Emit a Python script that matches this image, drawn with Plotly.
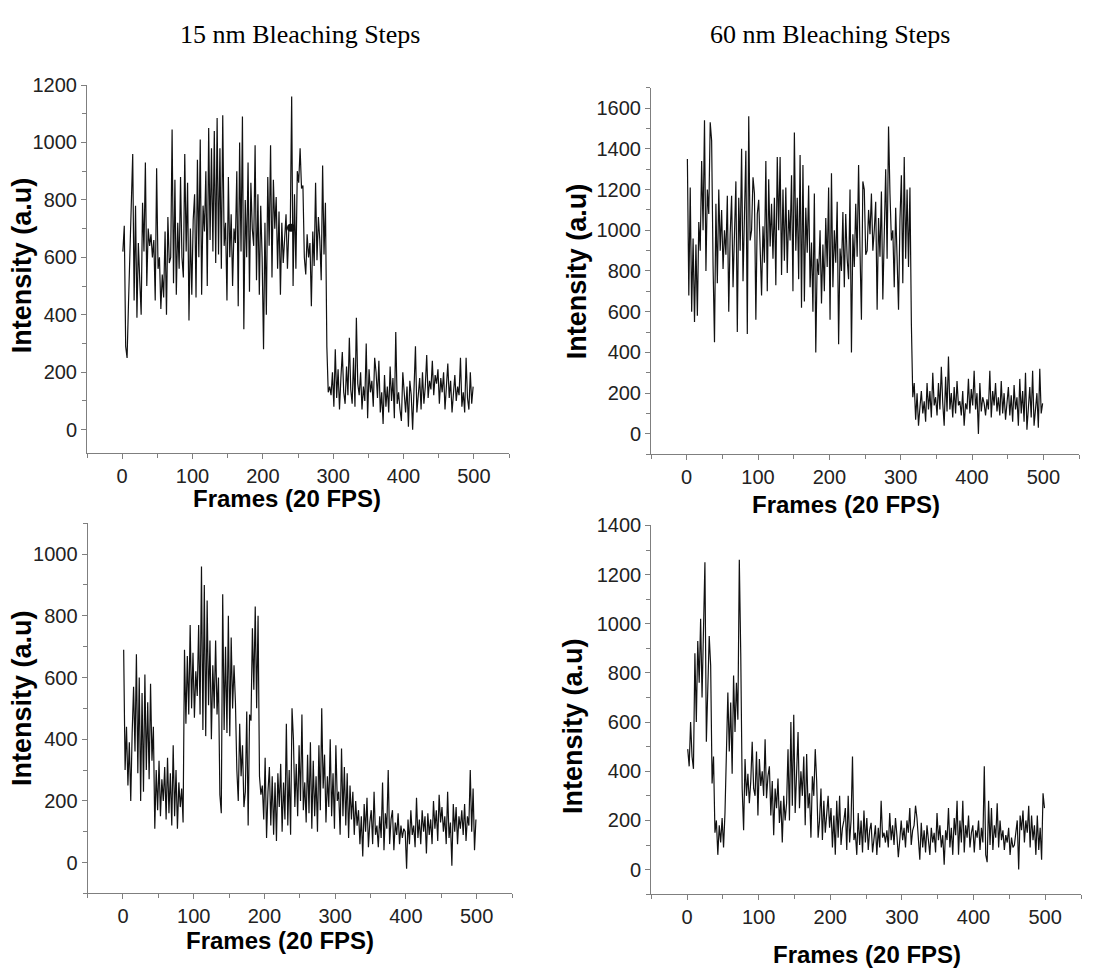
import plotly.graph_objects as go

# Frame numbers (every second frame of the 500-frame recordings)
frames = list(range(1, 501, 2))

# Top-left: 15 nm, single bleaching step
int_15_top = [
    620, 710, 290, 250, 440, 610, 700, 960, 450, 780,
    390, 650, 520, 400, 790, 620, 930, 500, 700, 640,
    680, 600, 660, 450, 910, 560, 600, 420, 540, 460,
    690, 400, 740, 580, 600, 1045, 510, 870, 470, 720,
    560, 880, 600, 530, 960, 620, 860, 380, 700, 470,
    730, 820, 460, 940, 600, 1010, 470, 780, 690, 900,
    500, 1050, 660, 980, 620, 1040, 580, 1085, 610, 980,
    560, 1095, 640, 720, 450, 880, 600, 750, 500, 700,
    650, 900, 430, 1000, 620, 1090, 350, 800, 600, 930,
    480, 860, 700, 640, 990, 520, 820, 470, 780, 600,
    280, 720, 400, 880, 640, 990, 530, 870, 700, 810,
    560, 760, 470, 720, 580, 680, 750, 560, 700, 700,
    1160, 500, 820, 560, 900, 860, 980, 840, 850, 600,
    540, 680, 600, 650, 430, 690, 570, 860, 590, 740,
    660, 520, 920, 610, 790, 290, 130, 150, 120, 200,
    80, 280, 110, 210, 70, 180, 270, 130, 90, 220,
    120, 320, 140, 90, 250, 80, 390, 160, 120, 200,
    70, 150, 100, 300, 40, 210, 130, 170, 80, 250,
    200, 110, 240, 60, 130, 20, 190, 80, 150, 60,
    220, 100, 180, 40, 340, 90, 130, 70, 30, 200,
    110, 60, 150, 10, 170, 120, 0, 140, 290, 60,
    130, 180, 70, 200, 90, 150, 260, 110, 170, 140,
    240, 120, 190, 160, 210, 90, 180, 130, 200, 70,
    150, 230, 110, 170, 60, 140, 190, 100, 150, 120,
    250, 80, 130, 60, 250, 110, 70, 200, 90, 150,
]
dot_frame = [240]
dot_int = [703]

# Top-right: 60 nm, single bleaching step
int_60_top = [
    1350, 680, 1210, 600, 960, 550, 930, 580, 1040, 900,
    1340, 1000, 1540, 800, 1200, 1080, 1530, 1440, 830, 450,
    1130, 740, 1200, 900, 1100, 810, 1000, 880, 1170, 600,
    980, 1170, 720, 1060, 1240, 500, 1160, 900, 1400, 750,
    1140, 1390, 490, 1560, 950, 1000, 1260, 1180, 560, 1080,
    1150, 900, 680, 1020, 840, 1340, 700, 1250, 920, 1130,
    860, 1160, 730, 1360, 1000, 1360, 780, 1200, 850, 1210,
    790, 1100, 950, 1270, 700, 1480, 900, 1160, 760, 1370,
    620, 1320, 650, 1110, 890, 1220, 720, 940, 600, 1180,
    400, 860, 780, 1000, 640, 930, 700, 1060, 820, 1210,
    560, 1280, 720, 1000, 840, 1140, 440, 910, 800, 1090,
    720, 1080, 860, 760, 1200, 400, 980, 820, 1130, 870,
    1320, 900, 560, 1240, 1200, 880, 900, 1100, 980, 1180,
    900, 1000, 1140, 610, 1060, 870, 1190, 660, 1030, 1300,
    860, 1510, 1180, 950, 1000, 720, 1110, 820, 610, 1050,
    1270, 740, 1360, 860, 1200, 820, 1210, 540, 180, 250,
    70, 200, 40, 130, 210, 100, 160, 60, 250, 120,
    210, 80, 300, 140, 180, 90, 250, 120, 330, 150,
    40, 280, 110, 380, 120, 200, 80, 230, 100, 260,
    140, 160, 90, 210, 40, 150, 120, 270, 100, 220,
    140, 310, 120, 200, 0, 250, 110, 180, 150, 90,
    170, 120, 310, 80, 210, 140, 250, 110, 180, 90,
    260, 100, 200, 70, 150, 230, 90, 190, 60, 240,
    120, 180, 40, 270, 100, 210, 60, 300, 20, 160,
    230, 80, 310, 40, 120, 200, 30, 320, 100, 150,
]

# Bottom-left: 15 nm, multi-step
int_15_bot = [
    690, 300, 440, 250, 390, 200, 420, 570, 360, 675,
    290, 600, 200, 550, 230, 610, 300, 520, 270, 580,
    330, 440, 110, 300, 170, 330, 150, 270, 200, 310,
    140, 340, 160, 290, 120, 380, 150, 300, 110, 260,
    180, 240, 130, 690, 450, 670, 480, 770, 500, 680,
    470, 620, 540, 770, 480, 960, 430, 900, 410, 850,
    510, 720, 400, 640, 500, 720, 480, 600, 220, 160,
    870, 430, 700, 420, 800, 410, 730, 500, 640, 520,
    300, 200, 450, 280, 380, 180, 230, 490, 120, 480,
    460, 760, 560, 830, 500, 800, 280, 220, 250, 140,
    340, 80, 230, 310, 120, 280, 90, 260, 70, 290,
    180, 320, 100, 260, 140, 450, 120, 300, 90, 500,
    400, 180, 320, 150, 380, 200, 480, 170, 260, 130,
    350, 160, 390, 110, 330, 150, 280, 100, 380, 170,
    500, 240, 350, 130, 280, 180, 400, 150, 290, 110,
    380, 200, 230, 90, 370, 150, 310, 120, 290, 80,
    250, 140, 230, 90, 200, 120, 170, 60, 150, 20,
    190, 100, 210, 50, 130, 170, 60, 230, 90, 120,
    50, 150, 80, 260, 40, 160, 110, 300, 60, 140,
    170, 40, 130, 90, 160, 60, 120, 80, 110, 100,
    -20, 140, 60, 170, 90, 120, 50, 210, 80, 140,
    60, 170, 100, 150, 30, 160, 90, 140, 60, 200,
    110, 170, 70, 220, 130, 180, 100, 150, 60, 230,
    80, 130, -10, 190, 100, 180, 60, 150, 110, 170,
    90, 190, 70, 150, 120, 300, 100, 240, 40, 140,
]

# Bottom-right: 60 nm, multi-step
int_60_bot = [
    490, 420, 600, 460, 410, 880, 600, 930, 760, 1020,
    700, 1055, 1250, 520, 760, 950, 830, 350, 460, 150,
    200, 60, 180, 110, 210, 90, 230, 540, 720, 480,
    680, 390, 790, 560, 760, 610, 1260, 880, 330, 160,
    450, 300, 390, 270, 360, 520, 330, 300, 480, 220,
    450, 340, 400, 300, 530, 290, 380, 420, 220, 360,
    140, 330, 250, 370, 190, 280, 110, 300, 200, 270,
    490, 200, 600, 260, 630, 230, 380, 560, 250, 400,
    300, 460, 180, 470, 250, 310, 130, 380, 300, 490,
    360, 130, 200, 330, 120, 280, 150, 240, 300, 170,
    250, 90, 220, 60, 280, 130, 300, 100, 170, 200,
    250, 80, 300, 110, 200, 460, 120, 150, 60, 230,
    100, 200, 70, 240, 110, 210, 80, 160, 190, 70,
    140, 180, 60, 170, 90, 280, 130, 150, 110, 160,
    90, 230, 120, 180, 100, 210, 140, 50, 120, 200,
    120, 170, 90, 200, 150, 250, 100, 160, 180, 260,
    210, 120, 40, 190, 90, 160, 70, 180, 120, 60,
    170, 110, 150, 70, 230, 120, 180, 90, 140, 20,
    160, 120, 250, 90, 170, 60, 210, 140, 280, 60,
    200, 110, 280, 70, 180, 130, 220, 90, 150, 180,
    70, 160, 130, 200, 80, 170, 110, 420, 60, 30,
    280, 100, 250, 80, 180, 130, 270, 90, 200, 120,
    160, 80, 140, 110, 170, 60, 130, 90, 100, 150,
    200, 0, 220, 160, 240, 110, 200, 150, 260, 90,
    220, 120, 180, 60, 220, 80, 170, 40, 310, 250,
]

col_titles = ["15 nm Bleaching Steps", "60 nm Bleaching Steps"]
x_title = "Frames (20 FPS)"
y_title = "Intensity (a.u)"

W, H = 1101, 969
SANS = "Liberation Sans, Arial, sans-serif"
SERIF = "Liberation Serif, Times New Roman, serif"


def fy(p):
    # map a target vertical pixel position to layout pixel position
    return (p - 12.1) / 0.987


def py(p):
    # paper y-coordinate for a target pixel row
    return 1 - fy(p) / H


panels = [
    # data, x-domain px, y-domain px (top, bottom), y-range
    dict(y=int_15_top, xd=(87, 509), yd=(86, 453), yr=(-80, 1200)),
    dict(y=int_60_top, xd=(651, 1079), yd=(88.7, 454.6), yr=(-100, 1700)),
    dict(y=int_15_bot, xd=(87.6, 512), yd=(523.5, 893.1), yr=(-100, 1100)),
    dict(y=int_60_bot, xd=(651.2, 1081), yd=(525.7, 893.8), yr=(-100, 1400)),
]

fig = go.Figure()
layout = {}
for i, p in enumerate(panels, start=1):
    sfx = "" if i == 1 else str(i)
    fig.add_trace(go.Scatter(
        x=frames, y=p["y"], mode="lines",
        line=dict(color="#111111", width=1.2),
        xaxis="x" + sfx, yaxis="y" + sfx, showlegend=False,
    ))
    common = dict(
        showline=True, linecolor="#7f7f7f", linewidth=1,
        showgrid=False, zeroline=False,
        ticks="outside", ticklen=5, tickcolor="#7f7f7f", tickwidth=1,
        tickfont=dict(family=SANS, size=20, color="#222222"),
    )
    layout["xaxis" + sfx] = dict(
        common, domain=[p["xd"][0] / W, p["xd"][1] / W],
        range=[-50, 550], tick0=0, dtick=100,
        minor=dict(dtick=50, ticks="outside", ticklen=4, tickcolor="#7f7f7f"),
        anchor="y" + sfx,
    )
    layout["yaxis" + sfx] = dict(
        common, domain=[py(p["yd"][1]), py(p["yd"][0])],
        range=list(p["yr"]), tick0=0, dtick=200,
        minor=dict(dtick=100, ticks="outside", ticklen=4, tickcolor="#7f7f7f"),
        anchor="x" + sfx,
    )

fig.add_trace(go.Scatter(
    x=dot_frame, y=dot_int, mode="markers",
    marker=dict(color="#111111", size=8),
    xaxis="x", yaxis="y", showlegend=False,
))

annotations = []
# column titles
for txt, cx in zip(col_titles, [300, 830]):
    annotations.append(dict(
        text=txt, x=cx / W, y=py(36), xref="paper", yref="paper",
        xanchor="center", yanchor="middle", showarrow=False,
        font=dict(family=SERIF, size=26, color="#000000"),
    ))
# x axis titles
for cx, cy in [(287, 499), (846, 505), (280, 940), (867, 954)]:
    annotations.append(dict(
        text="<b>%s</b>" % x_title, x=cx / W, y=py(cy),
        xref="paper", yref="paper", xanchor="center", yanchor="middle",
        showarrow=False, font=dict(family=SANS, size=24, color="#000000"),
    ))
# y axis titles
for cx, cy in [(22, 266), (577, 272), (22, 698), (573, 726)]:
    annotations.append(dict(
        text="<b>%s</b>" % y_title, x=cx / W, y=py(cy),
        xref="paper", yref="paper", xanchor="center", yanchor="middle",
        textangle=-90, showarrow=False,
        font=dict(family=SANS, size=27, color="#000000"),
    ))

fig.update_layout(
    width=W, height=H,
    margin=dict(l=0, r=0, t=0, b=0),
    paper_bgcolor="white", plot_bgcolor="white",
    annotations=annotations,
    **layout,
)

fig.write_html(
    "out.html",
    config={"displayModeBar": False},
    post_script=(
        "document.body.style.margin='0';"
        "document.body.style.overflow='hidden';"
        "var gd=document.getElementById('{plot_id}');"
        "gd.style.position='fixed';gd.style.top='0px';gd.style.left='0px';"
    ),
)
